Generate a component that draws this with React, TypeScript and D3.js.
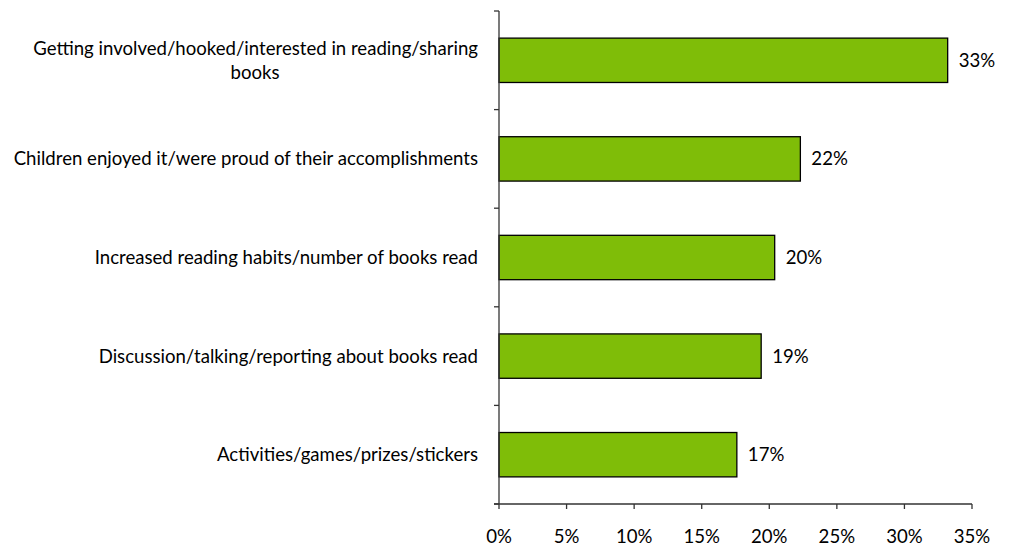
import React from "react";
import * as d3 from "d3";

const categories = [
  "Getting involved/hooked/interested in reading/sharing books",
  "Children enjoyed it/were proud of their accomplishments",
  "Increased reading habits/number of books read",
  "Discussion/talking/reporting about books read",
  "Activities/games/prizes/stickers",
];
const values = [33.2, 22.3, 20.4, 19.4, 17.6];
const valueLabels = ["33%", "22%", "20%", "19%", "17%"];
const xTicks = [0, 5, 10, 15, 20, 25, 30, 35];
const categoryLines = [
  ["Getting involved/hooked/interested in reading/sharing", "books"],
  ["Children enjoyed it/were proud of their accomplishments"],
  ["Increased reading habits/number of books read"],
  ["Discussion/talking/reporting about books read"],
  ["Activities/games/prizes/stickers"],
];

const W = 1011;
const H = 546;
const left = 499;
const right = 972;
const top = 11;
const bottom = 504;
const FONT = "Lato, 'Open Sans', sans-serif";
const FS = 18.6;

export default function App() {
  const x = d3.scaleLinear().domain([0, 35]).range([left, right]);
  const y = d3.scaleBand<string>().domain(categories).range([top, bottom]).paddingInner(0.55).paddingOuter(0.275);
  const bandStep = (bottom - top) / categories.length;
  const yTickPos = d3.range(categories.length + 1).map((i) => top + i * bandStep);

  return (
    <svg width={W} height={H} style={{ position: "absolute", left: 0, top: 0, background: "#fff" }} fontFamily={FONT}>
      {categories.map((c, i) => (
        <g key={c}>
          <rect
            x={x(0)}
            y={y(c)!}
            width={x(values[i]) - x(0)}
            height={y.bandwidth()}
            fill="#7FBD08"
            stroke="#000"
            strokeWidth={1.3}
          />
          <text x={x(values[i]) + 11} y={y(c)! + y.bandwidth() / 2} dy="0.35em" fontSize={FS} fill="#000">
            {valueLabels[i]}
          </text>
        </g>
      ))}
      {categories.map((c, i) => {
        const lines = categoryLines[i];
        const cy = y(c)! + y.bandwidth() / 2;
        const lh = 24;
        const startY = cy - ((lines.length - 1) * lh) / 2;
        if (lines.length === 1) {
          return (
            <text key={c} x={478} y={cy} dy="0.35em" textAnchor="end" fontSize={FS} fill="#000">
              {lines[0]}
            </text>
          );
        }
        return (
          <g key={c}>
            <text x={478} y={startY} dy="0.35em" textAnchor="end" fontSize={FS} fill="#000">
              {lines[0]}
            </text>
            <text x={255} y={startY + lh} dy="0.35em" textAnchor="middle" fontSize={FS} fill="#000">
              {lines[1]}
            </text>
          </g>
        );
      })}
      <line x1={left} x2={left} y1={top} y2={bottom} stroke="#333" strokeWidth={1.3} />
      {yTickPos.map((p, i) => (
        <line key={i} x1={left - 5} x2={left} y1={p} y2={p} stroke="#333" strokeWidth={1.3} />
      ))}
      <line x1={left - 5} x2={right} y1={bottom} y2={bottom} stroke="#333" strokeWidth={1.3} />
      {xTicks.map((t) => (
        <g key={t}>
          <line x1={x(t)} x2={x(t)} y1={bottom} y2={bottom + 5} stroke="#333" strokeWidth={1.3} />
          <text x={x(t)} y={536.5} dy="0.35em" textAnchor="middle" fontSize={FS} fill="#000">
            {`${t}%`}
          </text>
        </g>
      ))}
    </svg>
  );
}
